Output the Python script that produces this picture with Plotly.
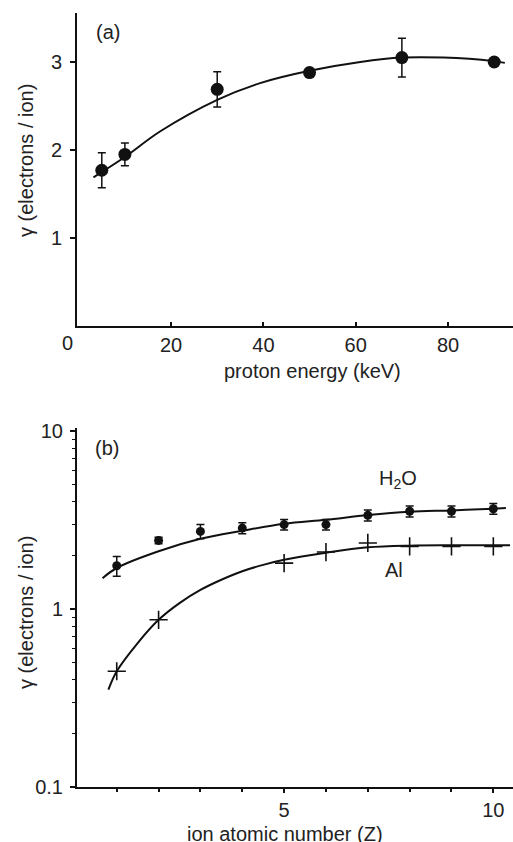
import plotly.graph_objects as go

W, H = 513, 842

# ---- panel (a) data ----
energy = [5, 10, 30, 50, 70, 90]
gamma_a = [1.77, 1.95, 2.69, 2.88, 3.05, 3.00]
err_a = [0.20, 0.13, 0.20, 0.03, 0.22, 0.03]
fit_a_x = [3.2, 10, 17.6, 30, 39.3, 50, 61, 70, 79, 89.8, 92.3]
fit_a_y = [1.69, 1.92, 2.21, 2.57, 2.76, 2.90, 3.00, 3.05, 3.05, 3.01, 2.99]

# ---- panel (b) data ----
z_h2o = [1, 2, 3, 4, 5, 6, 7, 8, 9, 10]
gamma_h2o = [1.75, 2.43, 2.73, 2.85, 2.98, 2.98, 3.36, 3.54, 3.54, 3.66]
err_h2o = [0.22, 0.10, 0.25, 0.20, 0.20, 0.20, 0.24, 0.25, 0.25, 0.25]
fit_h2o_x = [0.66, 1, 2, 3, 4, 5, 6, 7, 8, 9, 10, 10.3]
fit_h2o_y = [1.49, 1.70, 2.11, 2.48, 2.75, 3.01, 3.17, 3.37, 3.52, 3.58, 3.66, 3.69]

z_al = [1, 2, 5, 6, 7, 8, 9, 10]
gamma_al = [0.447, 0.87, 1.81, 2.09, 2.35, 2.25, 2.25, 2.25]
fit_al_x = [0.8, 1, 1.5, 2, 2.5, 3, 3.5, 4, 4.5, 5, 6, 7, 8, 9, 10, 10.4]
fit_al_y = [0.352, 0.447, 0.644, 0.87, 1.08, 1.28, 1.46, 1.63, 1.77, 1.89, 2.07, 2.22, 2.27, 2.28, 2.28, 2.28]

INK = "#111111"
FONT = "Liberation Sans, Arial, sans-serif"

fig = go.Figure()

fig.add_trace(go.Scatter(x=fit_a_x, y=fit_a_y, mode="lines",
                         line=dict(color=INK, width=2, shape="spline", smoothing=1.0),
                         xaxis="x", yaxis="y", showlegend=False))
fig.add_trace(go.Scatter(x=energy, y=gamma_a, mode="markers",
                         marker=dict(color=INK, size=13, symbol="circle"),
                         error_y=dict(type="data", array=err_a, color=INK, thickness=1.5, width=4),
                         xaxis="x", yaxis="y", showlegend=False, cliponaxis=False))

fig.add_trace(go.Scatter(x=fit_h2o_x, y=fit_h2o_y, mode="lines",
                         line=dict(color=INK, width=2, shape="spline", smoothing=1.0),
                         xaxis="x2", yaxis="y2", showlegend=False))
fig.add_trace(go.Scatter(x=fit_al_x, y=fit_al_y, mode="lines",
                         line=dict(color=INK, width=2, shape="spline", smoothing=1.0),
                         xaxis="x2", yaxis="y2", showlegend=False))
fig.add_trace(go.Scatter(x=z_h2o, y=gamma_h2o, mode="markers",
                         marker=dict(color=INK, size=9, symbol="circle"),
                         error_y=dict(type="data", array=err_h2o, color=INK, thickness=1.5, width=4),
                         xaxis="x2", yaxis="y2", showlegend=False))
fig.add_trace(go.Scatter(x=z_al, y=gamma_al, mode="markers",
                         marker=dict(color=INK, size=13, symbol="cross-thin",
                                     line=dict(color=INK, width=1.6)),
                         xaxis="x2", yaxis="y2", showlegend=False))

def px_x(p):
    return p / W

def px_y(p):
    return 1 - p / H

tickfont = dict(family=FONT, size=20, color="#222222")
xdom = [77 / W, 1.0]

fig.update_layout(
    width=W, height=H,
    margin=dict(l=0, r=0, t=0, b=0, autoexpand=False),
    paper_bgcolor="white", plot_bgcolor="white",
    font=dict(family=FONT, size=20, color="#222222"),
    xaxis=dict(domain=xdom, anchor="y", range=[-0.37, 94.07],
               tickmode="array", tickvals=[20, 40, 60, 80],
               ticks="inside", ticklen=4, tickwidth=1.5, tickcolor=INK,
               showline=True, linewidth=2, linecolor=INK, showgrid=False, zeroline=False,
               tickfont=tickfont, ticklabelstandoff=0, automargin=False),
    yaxis=dict(domain=[px_y(326), px_y(13)], anchor="x", range=[0, 3.557],
               tickmode="array", tickvals=[1, 2, 3],
               ticks="outside", ticklen=5, tickwidth=1.5, tickcolor=INK,
               showline=True, linewidth=2, linecolor=INK, showgrid=False, zeroline=False,
               tickfont=tickfont, ticklabelstandoff=4, automargin=False),
    xaxis2=dict(domain=xdom, anchor="y2", range=[0.05, 10.47],
                tickmode="array", tickvals=[5, 10],
                ticks="outside", ticklen=4, tickwidth=1.5, tickcolor=INK,
                minor=dict(tickvals=[1, 2, 3, 4, 6, 7, 8, 9], ticks="outside",
                           ticklen=3, tickwidth=1.5, tickcolor=INK, showgrid=False),
                showline=True, linewidth=2, linecolor=INK, showgrid=False, zeroline=False,
                tickfont=tickfont, ticklabelstandoff=0, automargin=False),
    yaxis2=dict(domain=[px_y(787), px_y(428)], anchor="x2", type="log", range=[-1.0, 1.017],
                tickmode="array", tickvals=[0.1, 1, 10], ticktext=["0.1", "1", "10"],
                ticks="outside", ticklen=5, tickwidth=1.5, tickcolor=INK,
                minor=dict(tickvals=[0.2, 0.3, 0.4, 0.5, 0.6, 0.7, 0.8, 0.9,
                                     2, 3, 4, 5, 6, 7, 8, 9],
                           ticks="outside", ticklen=3, tickwidth=1, tickcolor=INK, showgrid=False),
                showline=True, linewidth=2, linecolor=INK, showgrid=False, zeroline=False,
                tickfont=tickfont, ticklabelstandoff=3, automargin=False),
)

def ann(text, x, y, angle=0, size=20):
    fig.add_annotation(text=text, x=px_x(x), y=px_y(y), xref="paper", yref="paper",
                       xanchor="center", yanchor="middle", showarrow=False,
                       textangle=angle, font=dict(family=FONT, size=size, color="#222222"))

ann("(a)", 108, 32)
ann("(b)", 107, 448)
ann("H<sub>2</sub>O", 398, 479)
ann("Al", 394, 570)
ann("0", 67, 343)
ann("proton energy (keV)", 312, 371)
ann("γ (electrons / ion)", 26, 161, angle=-90)
ann("γ (electrons / ion)", 26, 613, angle=-90)
ann("ion atomic number (Z)", 285, 834)

fig.write_html("out.html",
               config={"displayModeBar": False},
               post_script="document.body.style.margin='0';document.body.style.overflow='hidden';")
